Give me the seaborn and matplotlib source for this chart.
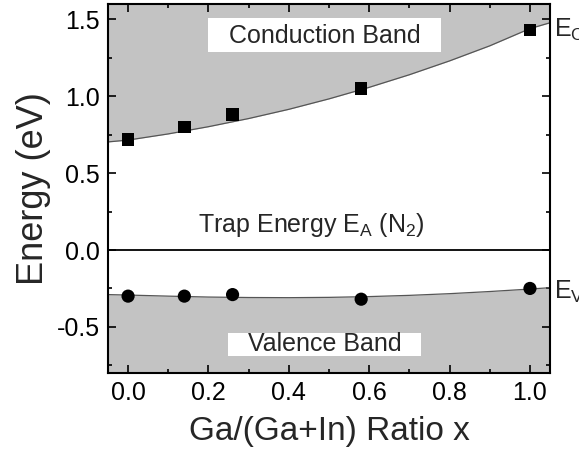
import matplotlib
matplotlib.use("Agg")
import matplotlib.pyplot as plt
import seaborn as sns
import pandas as pd
from matplotlib.patches import Rectangle
from matplotlib.ticker import MultipleLocator

# data
x_ratio = [0.0, 0.14, 0.26, 0.58, 1.0]
e_c = [0.72, 0.80, 0.88, 1.05, 1.43]
e_v = [-0.30, -0.30, -0.29, -0.32, -0.25]
curve_x = [-0.05, 0.0, 0.1, 0.2, 0.3, 0.4, 0.5, 0.6, 0.7, 0.8, 0.9, 1.0, 1.05]
curve_c = [0.703, 0.715, 0.755, 0.802, 0.855, 0.915, 0.983, 1.058, 1.140, 1.230, 1.328, 1.440, 1.478]
curve_v = [-0.290, -0.293, -0.300, -0.306, -0.309, -0.310, -0.308, -0.303, -0.295, -0.284, -0.270, -0.254, -0.245]

sns.set_style("ticks")
plt.rcParams['font.family'] = ['Liberation Sans', 'DejaVu Sans']
plt.rcParams['mathtext.default'] = 'regular'

fig = plt.figure(figsize=(5.79, 4.5), dpi=100)
ax = fig.add_axes([0.1865, 0.1711, 0.7635, 0.8200])

ymin, ymax = -0.8, 1.6
gray = '#c3c3c3'
ax.fill_between(curve_x, curve_c, ymax, color=gray, lw=0, zorder=0)
ax.fill_between(curve_x, curve_v, ymin, color=gray, lw=0, zorder=0)

cdf = pd.DataFrame({'x': curve_x, 'c': curve_c, 'v': curve_v})
sns.lineplot(data=cdf, x='x', y='c', ax=ax, color='#555555', lw=0.9, zorder=2)
sns.lineplot(data=cdf, x='x', y='v', ax=ax, color='#555555', lw=0.9, zorder=2)

ax.axhline(0, color='black', lw=1.3, zorder=2)

pdf = pd.DataFrame({'x': x_ratio, 'c': e_c, 'v': e_v})
sns.scatterplot(data=pdf, x='x', y='c', ax=ax, marker='s', s=80, color='black',
                edgecolor='none', zorder=5)
sns.scatterplot(data=pdf, x='x', y='v', ax=ax, marker='o', s=90, color='black',
                edgecolor='none', zorder=5)

# label boxes
ax.add_patch(Rectangle((0.20, 1.288), 0.579, 0.218, facecolor='white', edgecolor='none', zorder=3))
ax.add_patch(Rectangle((0.249, -0.691), 0.48, 0.154, facecolor='white', edgecolor='none', zorder=3))
ax.text(0.49, 1.395, 'Conduction Band', fontsize=18, ha='center', va='center', zorder=4)
ax.text(0.49, -0.612, 'Valence Band', fontsize=18, ha='center', va='center', zorder=4)
ax.text(0.455, 0.16, 'Trap Energy E$_{A}$ (N$_{2}$)', fontsize=18, ha='center', va='center', zorder=4)

ax.text(1.06, 1.43, 'E$_{C}$', fontsize=18, ha='left', va='center', clip_on=False)
ax.text(1.06, -0.27, 'E$_{V}$', fontsize=18, ha='left', va='center', clip_on=False)

ax.set_xlim(-0.05, 1.05)
ax.set_ylim(ymin, ymax)
ax.xaxis.set_major_locator(MultipleLocator(0.2))
ax.xaxis.set_minor_locator(MultipleLocator(0.1))
ax.yaxis.set_major_locator(MultipleLocator(0.5))
ax.yaxis.set_minor_locator(MultipleLocator(0.25))
ax.tick_params(which='both', direction='in', top=True, right=True, width=1.2, labelsize=18, colors='black')
ax.tick_params(which='major', length=6, pad=6)
ax.tick_params(which='minor', length=3)
ax.set_xticklabels([f'{t:.1f}' for t in ax.get_xticks()])
ax.set_yticklabels([f'{t:.1f}' for t in ax.get_yticks()])
for sp in ax.spines.values():
    sp.set_linewidth(1.5)
    sp.set_color('black')
ax.set_xlabel('Ga/(Ga+In) Ratio x', fontsize=24, labelpad=8)
ax.set_ylabel('Energy (eV)', fontsize=26, labelpad=4)

fig.savefig('out.png', dpi=100)
